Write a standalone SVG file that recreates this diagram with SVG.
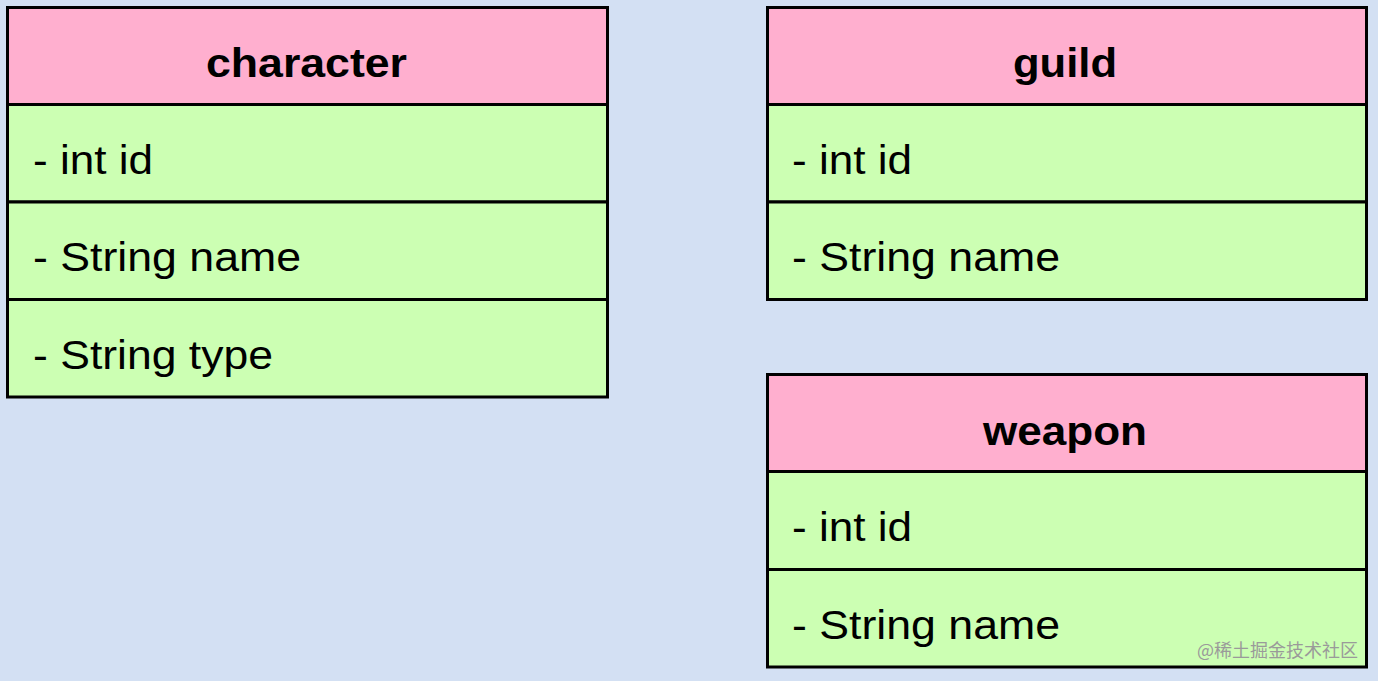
<svg xmlns="http://www.w3.org/2000/svg" width="1378" height="681" viewBox="0 0 1378 681">
<style>
.h{fill:#ffafcf;stroke:#000;stroke-width:3}
.r{fill:#ccffb3;stroke:#000;stroke-width:3}
.ht{font-family:"Liberation Sans",Arial,sans-serif;font-weight:bold;font-size:40px;text-anchor:middle;fill:#000}
.rt{font-family:"Liberation Sans",Arial,sans-serif;font-size:40px;fill:#000}
.wm{font-family:"Noto Sans CJK SC",sans-serif;font-size:18px;fill:#9a9a9a}
</style>
<rect width="1378" height="681" fill="#d3e0f3"/>
<g id="character">
<rect class="r" x="7.5" y="104.5" width="600" height="97.5"/>
<rect class="r" x="7.5" y="202" width="600" height="97.5"/>
<rect class="r" x="7.5" y="299.5" width="600" height="97.5"/>
<rect class="h" x="7.5" y="7.5" width="600" height="97"/>
<text class="ht" x="306.5" y="77" textLength="201" lengthAdjust="spacingAndGlyphs">character</text>
<text class="rt" x="33" y="174" textLength="120" lengthAdjust="spacingAndGlyphs">- int id</text>
<text class="rt" x="33" y="271" textLength="268" lengthAdjust="spacingAndGlyphs">- String name</text>
<text class="rt" x="33" y="369" textLength="240" lengthAdjust="spacingAndGlyphs">- String type</text>
</g>
<g id="guild">
<rect class="r" x="767.5" y="104.5" width="599" height="97.5"/>
<rect class="r" x="767.5" y="202" width="599" height="97.5"/>
<rect class="h" x="767.5" y="7.5" width="599" height="97"/>
<text class="ht" x="1065" y="77" textLength="104" lengthAdjust="spacingAndGlyphs">guild</text>
<text class="rt" x="792" y="174" textLength="120" lengthAdjust="spacingAndGlyphs">- int id</text>
<text class="rt" x="792" y="271" textLength="268" lengthAdjust="spacingAndGlyphs">- String name</text>
</g>
<g id="weapon">
<rect class="r" x="767.5" y="471.5" width="599" height="98"/>
<rect class="r" x="767.5" y="569.5" width="599" height="97.5"/>
<rect class="h" x="767.5" y="374.5" width="599" height="97"/>
<text class="ht" x="1065" y="445" textLength="164" lengthAdjust="spacingAndGlyphs">weapon</text>
<text class="rt" x="792" y="541" textLength="120" lengthAdjust="spacingAndGlyphs">- int id</text>
<text class="rt" x="792" y="639" textLength="268" lengthAdjust="spacingAndGlyphs">- String name</text>
</g>
<g id="connectors"/>
<text class="wm" x="1197" y="657">@稀土掘金技术社区</text>
</svg>
